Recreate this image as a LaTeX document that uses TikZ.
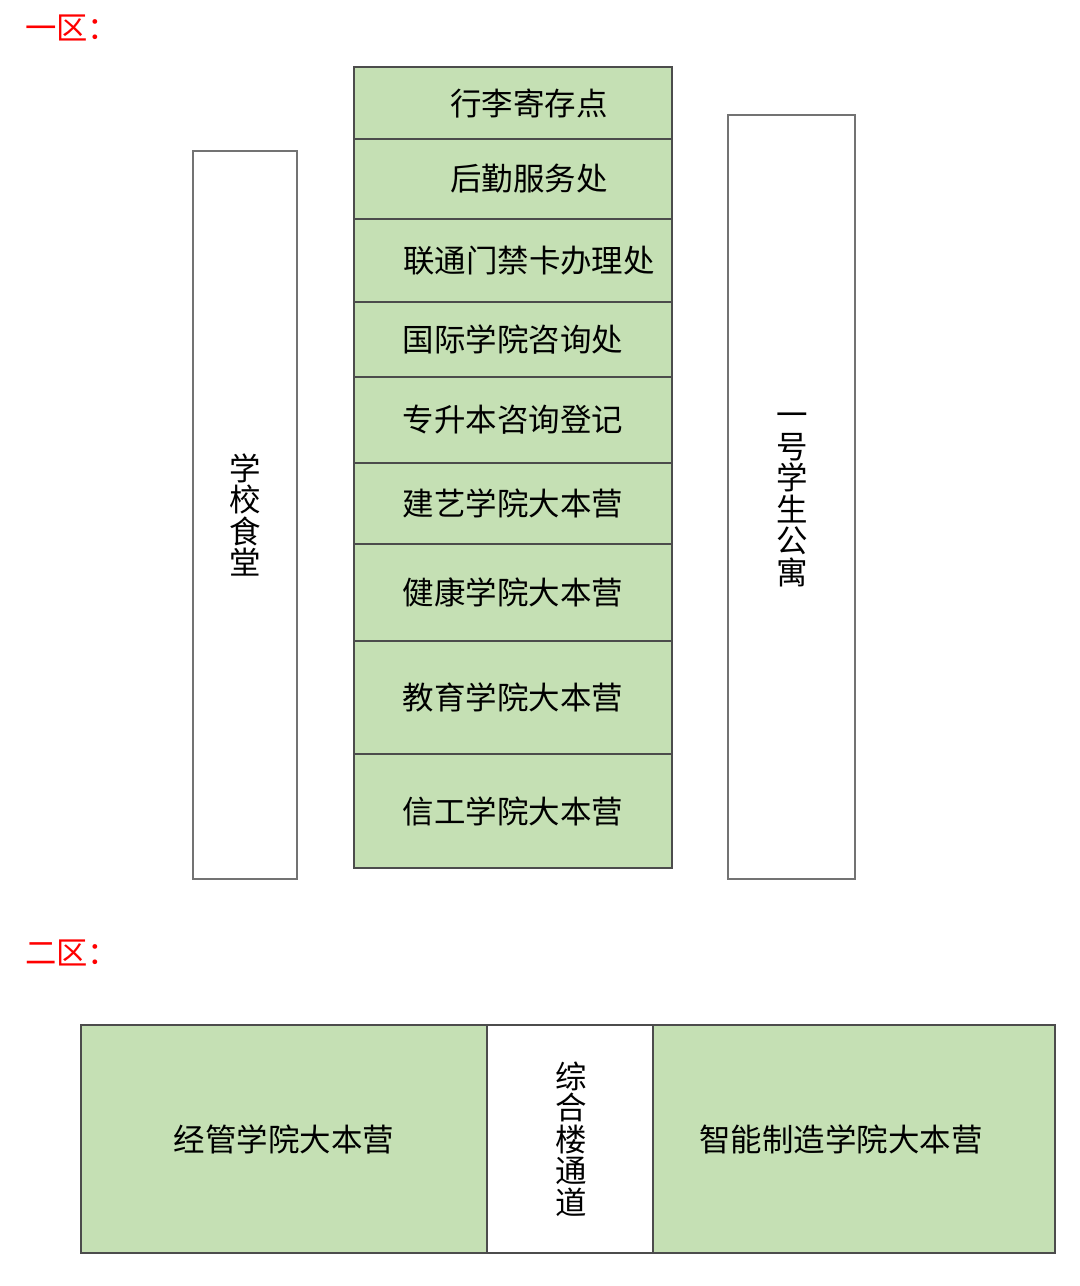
\documentclass[tikz,border=0pt]{standalone}
\usepackage{fontspec}
\setmainfont{Noto Sans CJK SC}
\usepackage{xcolor}
\usepackage{tikz}
\definecolor{lgreen}{RGB}{197,224,180}

\begin{document}
\begin{tikzpicture}
[x=0.75pt,y=-0.75pt,
zone/.style={anchor=west,inner sep=0pt,text=red,font=\fontsize{23.5}{28}\selectfont},
hall/.style={rectangle,draw=black!70,fill=lgreen,line width=0.8pt,minimum width=238.5pt,inner sep=0pt,font=\fontsize{23.6}{28}\selectfont},
wall/.style={rectangle,draw=black!55,fill=white,line width=0.8pt,inner sep=0pt},
vtxt/.style={align=center,inner sep=0pt,font=\fontsize{23.6}{23.6}\selectfont}]
\useasboundingbox (0,0) rectangle (1080,1286);
% zone one
\node at (25,28) [zone] (z1) {一区：};
\node at (245,515) [wall,minimum width=78pt,minimum height=546pt] (canteen) {};
\node at (245,515) [vtxt] (canteent) {学\\校\\食\\堂};
\node at (791.5,497) [wall,minimum width=95.25pt,minimum height=573pt] (dorm) {};
\node at (792,500) [vtxt] (dormt) {一\\号\\学\\生\\公\\寓};
\node at (513,103) [hall,minimum height=54pt] (r1) {\hspace*{24pt}行李寄存点};
\node at (513,179) [hall,minimum height=60pt] (r2) {\hspace*{24pt}后勤服务处};
\node at (513,260.5) [hall,minimum height=62.25pt] (r3) {\hspace*{24pt}联通门禁卡办理处};
\node at (513,339.5) [hall,minimum height=56.25pt] (r4) {国际学院咨询处};
\node at (513,420) [hall,minimum height=64.5pt] (r5) {专升本咨询登记};
\node at (513,503.5) [hall,minimum height=60.75pt] (r6) {建艺学院大本营};
\node at (513,592.5) [hall,minimum height=72.75pt] (r7) {健康学院大本营};
\node at (513,697.5) [hall,minimum height=84.75pt] (r8) {教育学院大本营};
\node at (513,811) [hall,minimum height=85.5pt] (r9) {信工学院大本营};
% zone two
\node at (25,953) [zone] (z2) {二区：};
\node at (284,1139) [hall,minimum width=304.5pt,minimum height=171pt] (jg) {经管学院大本营};
\node at (570,1139) [wall,draw=black!70,minimum width=124.5pt,minimum height=171pt] (pass) {};
\node at (571,1139) [vtxt] (passt) {综\\合\\楼\\通\\道};
\node at (854,1139) [hall,minimum width=301.5pt,minimum height=171pt] (zn) {智能制造学院大本营\hspace*{19.5pt}};
\end{tikzpicture}
\end{document}
